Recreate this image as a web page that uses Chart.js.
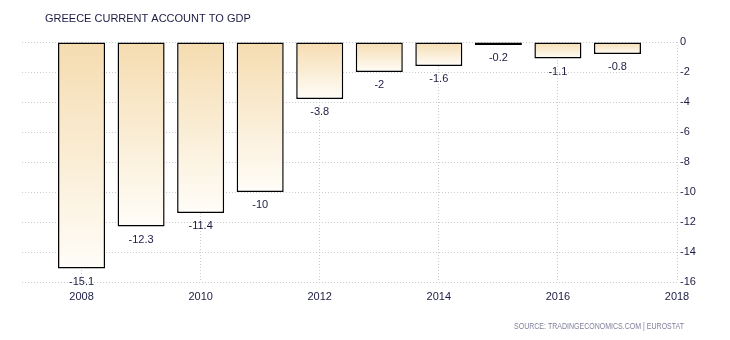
<!DOCTYPE html>
<html>
<head>
<meta charset="utf-8">
<script src="https://cdn.jsdelivr.net/npm/chart.js@4/dist/chart.umd.min.js"></script>
<style>
html,body{margin:0;padding:0;background:#fff;}
#wrap{position:relative;width:730px;height:340px;}
</style>
</head>
<body>
<div id="wrap"><canvas id="c" width="730" height="340"></canvas></div>
<script>
const title = "GREECE CURRENT ACCOUNT TO GDP";
const source = "SOURCE: TRADINGECONOMICS.COM | EUROSTAT";
const years = [2008, 2009, 2010, 2011, 2012, 2013, 2014, 2015, 2016, 2017];
const values = [-15.1, -12.3, -11.4, -10, -3.8, -2, -1.6, -0.2, -1.1, -0.8];
const xTicks = [2008, 2010, 2012, 2014, 2016, 2018];
const yTicks = [0, -2, -4, -6, -8, -10, -12, -14, -16];

const FONT = "'Liberation Sans', Arial, sans-serif";
const TXT = '#1c1c44';

const textPlugin = {
  id: 'texts',
  afterDraw(chart) {
    const c = chart.ctx;
    c.save();
    c.fillStyle = TXT;
    c.font = '11px ' + FONT;
    c.textBaseline = 'middle';
    c.textAlign = 'left';
    c.fillText(title, 45, 19);
    c.fillStyle = '#80809a';
    c.font = '9px ' + FONT;
    c.fillText(source, 514, 327, 170);
    const meta = chart.getDatasetMeta(0);
    c.fillStyle = TXT;
    c.font = '11px ' + FONT;
    c.textAlign = 'center';
    meta.data.forEach((bar, i) => {
      c.fillText(String(values[i]), bar.x, bar.y + 13);
    });
    c.restore();
  }
};

new Chart(document.getElementById('c'), {
  type: 'bar',
  data: {
    datasets: [{
      data: years.map((y, i) => ({x: y, y: values[i]})),
      borderColor: '#000',
      borderWidth: 1.5,
      borderSkipped: false,
      categoryPercentage: 1,
      barPercentage: 0.79,
      backgroundColor: (ctx) => {
        const chart = ctx.chart;
        if (!chart.chartArea || !ctx.parsed) return '#f5dcb0';
        const ys = chart.scales.y;
        const y0 = ys.getPixelForValue(0);
        let y1 = ys.getPixelForValue(ctx.parsed.y);
        if (Math.abs(y1 - y0) < 1) y1 = y0 + 1;
        const g = chart.ctx.createLinearGradient(0, y0, 0, y1);
        g.addColorStop(0, '#f5dcb0');
        g.addColorStop(1, '#fffdf8');
        return g;
      }
    }]
  },
  options: {
    responsive: false,
    animation: false,
    layout: {padding: {left: 22, top: 42, right: 0, bottom: 0}},
    plugins: {legend: {display: false}, tooltip: {enabled: false}, title: {display: false}},
    scales: {
      x: {
        type: 'linear',
        offset: false,
        min: 2007,
        max: 2018,
        afterBuildTicks: (s) => { s.ticks = xTicks.map(v => ({value: v})); },
        afterFit: (s) => { s.height = 58; },
        grid: {color: '#cccccc', lineWidth: 1, drawTicks: false, offset: false},
        border: {display: false, dash: [1, 2]},
        ticks: {color: TXT, font: {family: FONT, size: 11}, padding: 8, autoSkip: false, maxRotation: 0,
                callback: (v) => String(v)}
      },
      y: {
        position: 'right',
        min: -16,
        max: 0,
        afterBuildTicks: (s) => { s.ticks = yTicks.map(v => ({value: v})); },
        afterFit: (s) => { s.width = 53; },
        grid: {color: '#cccccc', lineWidth: 1, drawTicks: false},
        border: {display: false, dash: [1, 2]},
        ticks: {color: TXT, font: {family: FONT, size: 11}, padding: 3, crossAlign: 'near'}
      }
    }
  },
  plugins: [textPlugin]
});
</script>
</body>
</html>
